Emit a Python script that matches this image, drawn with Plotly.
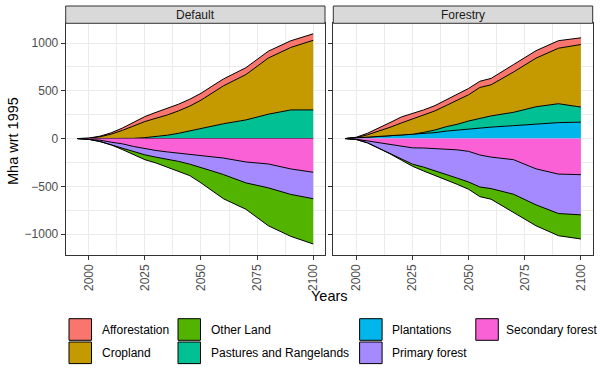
"""
Land-use change relative to 1995 (Mha), Default vs Forestry scenario.

Stacked areas: gains above zero, losses below zero, one panel per scenario.
"""

import plotly.graph_objects as go

# -------------------------------------------------
# DATA
# -------------------------------------------------

years = [1995, 2000, 2005, 2010, 2015, 2020, 2025, 2030, 2035,
         2040, 2045, 2050, 2055, 2060, 2070, 2080, 2090, 2100]

default_afforestation = [0, 2, 6, 14, 24, 38, 52, 62, 68, 70, 72, 72, 72, 72, 72, 72, 70, 68]
default_cropland = [0, 3, 19, 46, 86, 130, 168, 193, 212, 235, 260, 294, 343, 397, 475, 588, 654, 729]
default_pastures = [0, 0, 0, 0, 0, 2, 10, 20, 35, 55, 80, 108, 135, 155, 195, 255, 300, 300]
default_plantations = [0, 0, 0, 0, 0, 0, 0, 0, 0, 0, 0, 0, 0, 0, 0, 0, 0, 0]
default_secondary = [0, -5, -17, -38, -55, -83, -107, -125, -140, -152, -165, -180, -192, -204, -245, -266, -318, -353]
default_primary = [0, -3, -14, -28, -53, -57, -63, -70, -75, -87, -103, -121, -148, -173, -219, -250, -267, -277]
default_other = [0, 0, 0, 0, -7, -25, -51, -61, -85, -104, -120, -163, -205, -253, -276, -397, -439, -474]

forestry_afforestation = [0, 4, 16, 33, 49, 63, 54, 50, 55, 59, 60, 66, 65, 67, 78, 78, 79, 70]
forestry_cropland = [0, 2, 20, 47, 85, 125, 160, 185, 200, 222, 250, 275, 325, 326, 422, 509, 581, 655]
forestry_pastures = [0, 3, 5, 6, 3, 0, 0, 13, 28, 46, 60, 84, 100, 117, 140, 180, 198, 158]
forestry_plantations = [0, 5, 15, 22, 30, 38, 45, 52, 62, 78, 90, 100, 110, 120, 135, 153, 167, 172]
forestry_secondary = [0, -8, -25, -45, -65, -85, -97, -99, -104, -110, -118, -134, -172, -194, -221, -317, -372, -378]
forestry_primary = [0, -2, -20, -55, -90, -125, -171, -200, -231, -265, -297, -321, -335, -330, -362, -377, -413, -421]
forestry_other = [0, 0, 0, 0, -5, -15, -22, -41, -50, -52, -65, -76, -101, -111, -191, -219, -232, -253]

scenarios = ["Default", "Forestry"]

land_types = ["Afforestation", "Cropland", "Other Land", "Pastures and Rangelands",
              "Plantations", "Primary forest", "Secondary forest"]

x_ticks = [2000, 2025, 2050, 2075, 2100]

# -------------------------------------------------
# STYLE
# -------------------------------------------------

W, H = 600, 371
FONT = "Liberation Sans, Arial, Helvetica, sans-serif"

COLORS = {
    "Afforestation": "#F8766D",
    "Cropland": "#C49A00",
    "Other Land": "#53B400",
    "Pastures and Rangelands": "#00C094",
    "Plantations": "#00B6EB",
    "Primary forest": "#A58AFF",
    "Secondary forest": "#FB61D7",
}


def fx(px):
    return px / W


def fy(px):
    return 1 - px / H


panel_data = {
    "Default": {
        "Afforestation": default_afforestation,
        "Cropland": default_cropland,
        "Pastures and Rangelands": default_pastures,
        "Plantations": default_plantations,
        "Secondary forest": default_secondary,
        "Primary forest": default_primary,
        "Other Land": default_other,
    },
    "Forestry": {
        "Afforestation": forestry_afforestation,
        "Cropland": forestry_cropland,
        "Pastures and Rangelands": forestry_pastures,
        "Plantations": forestry_plantations,
        "Secondary forest": forestry_secondary,
        "Primary forest": forestry_primary,
        "Other Land": forestry_other,
    },
}

# stacking order, from zero outwards
positive_order = ["Plantations", "Pastures and Rangelands", "Cropland", "Afforestation"]
negative_order = ["Secondary forest", "Primary forest", "Other Land"]

# panel pixel boxes (left, right) and shared vertical box
panel_x = {"Default": (65.7, 325.0), "Forestry": (333.3, 592.7)}
panel_top, panel_bottom = 23.3, 254.5
strip_top = 6.0

# -------------------------------------------------
# FIGURE
# -------------------------------------------------

fig = go.Figure()

y_max = 0
y_min = 0

for i, scen in enumerate(scenarios):
    axis_suffix = "" if i == 0 else str(i + 1)
    data = panel_data[scen]

    pos_total = [sum(data[n][k] for n in positive_order) for k in range(len(years))]
    neg_total = [sum(data[n][k] for n in negative_order) for k in range(len(years))]
    y_max = max(y_max, max(pos_total))
    y_min = min(y_min, min(neg_total))

    for group, order in (("pos", positive_order), ("neg", negative_order)):
        for name in order:
            fig.add_trace(go.Scatter(
                x=years,
                y=data[name],
                name=name,
                mode="lines",
                stackgroup=f"{scen}_{group}",
                line=dict(color="black", width=1),
                fillcolor=COLORS[name],
                showlegend=False,
                xaxis="x" + axis_suffix,
                yaxis="y" + axis_suffix,
            ))

span = y_max - y_min
y_range = [y_min - 0.05 * span, y_max + 0.05 * span]
x_range = [1995 - 0.05 * 105, 2100 + 0.05 * 105]

axis_common = dict(
    showline=True,
    mirror=True,
    linecolor="#333333",
    linewidth=1,
    showgrid=True,
    gridcolor="#EBEBEB",
    gridwidth=1.1,
    zeroline=False,
    ticks="outside",
    ticklen=4,
    tickwidth=1,
    tickcolor="#333333",
    tickfont=dict(family=FONT, size=12, color="#4D4D4D"),
)

y_domain = [fy(panel_bottom), fy(panel_top)]

layout_axes = {}
for i, scen in enumerate(scenarios):
    suffix = "" if i == 0 else str(i + 1)
    left, right = panel_x[scen]
    layout_axes["xaxis" + suffix] = dict(
        axis_common,
        domain=[fx(left), fx(right)],
        range=x_range,
        tickvals=x_ticks,
        tickangle=-90,
        anchor="y" + suffix,
        minor=dict(dtick=12.5, tick0=2000, showgrid=True,
                   gridcolor="#EBEBEB", gridwidth=0.55),
    )
    layout_axes["yaxis" + suffix] = dict(
        axis_common,
        domain=y_domain,
        range=y_range,
        dtick=500,
        tick0=0,
        showticklabels=(i == 0),
        anchor="x" + suffix,
        minor=dict(dtick=250, tick0=0, showgrid=True,
                   gridcolor="#EBEBEB", gridwidth=0.55),
    )

shapes = []
annotations = []

# facet strips
for scen in scenarios:
    left, right = panel_x[scen]
    shapes.append(dict(
        type="rect", xref="paper", yref="paper",
        x0=fx(left), x1=fx(right), y0=fy(panel_top), y1=fy(strip_top),
        fillcolor="#D9D9D9", line=dict(color="#333333", width=1),
    ))
    annotations.append(dict(
        text=scen, xref="paper", yref="paper",
        x=fx((left + right) / 2), y=fy((strip_top + panel_top) / 2),
        showarrow=False, xanchor="center", yanchor="middle",
        font=dict(family=FONT, size=12, color="#1A1A1A"),
    ))

# axis titles
annotations.append(dict(
    text="Mha wrt 1995", xref="paper", yref="paper",
    x=fx(13), y=fy(141), textangle=-90,
    showarrow=False, xanchor="center", yanchor="middle",
    font=dict(family=FONT, size=14.5, color="black"),
))
annotations.append(dict(
    text="Years", xref="paper", yref="paper",
    x=fx(329), y=fy(296),
    showarrow=False, xanchor="center", yanchor="middle",
    font=dict(family=FONT, size=14.5, color="black"),
))

# legend (two rows, filled column by column)
legend_cols = [(69.0, 100.0), (178.0, 209.0), (359.6, 390.0), (475.8, 504.0)]
row_tops = [318.7, 342.0]
key_w, key_h = 22.5, 21.6

for idx, name in enumerate(land_types):
    col, row = divmod(idx, 2)
    kx, tx = legend_cols[col]
    top = row_tops[row]
    shapes.append(dict(
        type="rect", xref="paper", yref="paper",
        x0=fx(kx), x1=fx(kx + key_w), y0=fy(top + key_h), y1=fy(top),
        fillcolor=COLORS[name], line=dict(color="black", width=1),
    ))
    annotations.append(dict(
        text=name, xref="paper", yref="paper",
        x=fx(tx), y=fy(top + key_h / 2),
        showarrow=False, xanchor="left", yanchor="middle",
        font=dict(family=FONT, size=12, color="black"),
    ))

fig.update_layout(
    width=W,
    height=H,
    margin=dict(l=0, r=0, t=0, b=0),
    plot_bgcolor="white",
    paper_bgcolor="white",
    font=dict(family=FONT),
    showlegend=False,
    shapes=shapes,
    annotations=annotations,
    **layout_axes,
)

# the page body has a default 8px margin; drop it so the figure fills the window
fig.write_html(
    "out.html",
    config={"displayModeBar": False},
    post_script="document.body.style.margin = '0';",
)
